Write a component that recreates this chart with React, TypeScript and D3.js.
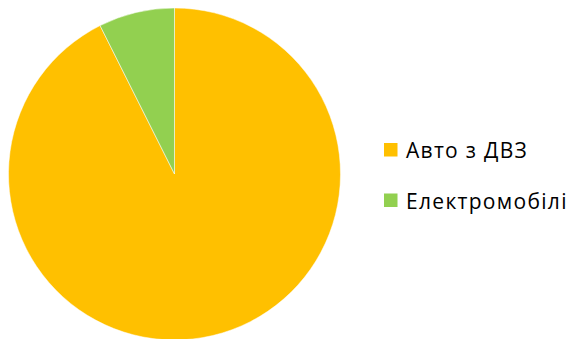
import React from "react";
import * as d3 from "d3";

const categories = ["Авто з ДВЗ", "Електромобілі"];
const values = [92.6, 7.4];
const colors = ["#FFC000", "#92D050"];

export default function App() {
  const width = 568, height = 339;
  const cx = 174.5, cy = 174, r = 166;
  const pie = d3.pie<number>().sort(null).value((d) => d)(values);
  const arc = d3.arc<d3.PieArcDatum<number>>().innerRadius(0).outerRadius(r);
  return (
    <svg width={width} height={height} style={{ position: "absolute", left: 0, top: 0 }}>
      <g transform={`translate(${cx},${cy})`}>
        {pie.map((p, i) => (
          <path key={i} d={arc(p) || ""} fill={colors[i]} stroke="#fff" strokeWidth={0.5} />
        ))}
      </g>
      {categories.map((c, i) => (
        <g key={c} transform={`translate(384,${143 + i * 50.5})`}>
          <rect x={0} y={0} width={13.5} height={13.5} fill={colors[i]} />
          <text x={22} y={15} fontFamily="'Open Sans', sans-serif" fontSize={21} letterSpacing={1.3} fill="#000">
            {c}
          </text>
        </g>
      ))}
    </svg>
  );
}
